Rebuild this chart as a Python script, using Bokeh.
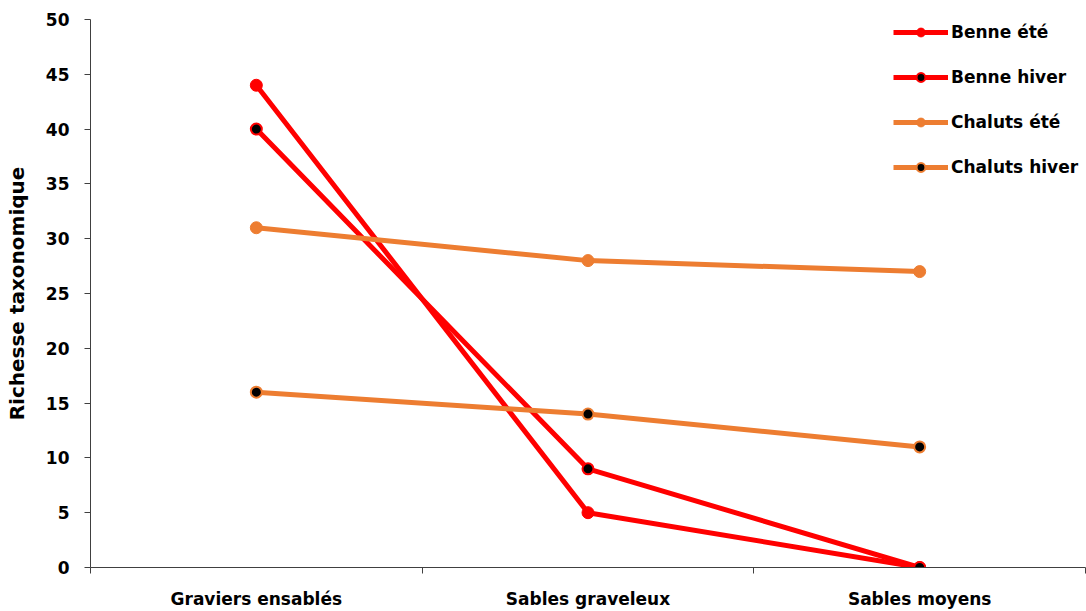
from bokeh.plotting import figure
from bokeh.models import Range1d, FixedTicker, Legend, LegendItem
from bokeh.embed import file_html
from bokeh.resources import INLINE

categories = ["Graviers ensablés", "Sables graveleux", "Sables moyens"]
benne_ete = [44, 5, 0]
benne_hiver = [40, 9, 0]
chaluts_ete = [31, 28, 27]
chaluts_hiver = [16, 14, 11]
y_ticks = [0, 5, 10, 15, 20, 25, 30, 35, 40, 45, 50]

RED = "#FF0000"
ORANGE = "#ED7D31"
FONT = "DejaVu Sans"

xs = [i + 0.5 for i in range(len(categories))]

p = figure(width=1086, height=611, output_backend="svg", toolbar_location=None,
           x_range=Range1d(0, 3), y_range=Range1d(0, 50),
           min_border_left=90, min_border_right=1, min_border_top=19, min_border_bottom=44)
p.outline_line_color = None
p.xgrid.visible = False
p.ygrid.visible = False
p.background_fill_color = "white"
p.border_fill_color = "white"

# x axis
p.xaxis.ticker = FixedTicker(ticks=xs, minor_ticks=[0, 1, 2, 3])
p.xaxis.major_label_overrides = {x: c for x, c in zip(xs, categories)}
p.xaxis.major_tick_out = 0
p.xaxis.major_tick_in = 0
p.xaxis.minor_tick_out = 6
p.xaxis.minor_tick_in = 0
p.xaxis.axis_line_color = "#404040"
p.xaxis.minor_tick_line_color = "#404040"
p.xaxis.major_label_standoff = 15
p.xaxis.major_label_text_font = FONT
p.xaxis.major_label_text_font_style = "bold"
p.xaxis.major_label_text_font_size = "17px"
p.xaxis.major_label_text_color = "black"

# y axis
p.yaxis.ticker = FixedTicker(ticks=y_ticks)
p.yaxis.major_tick_out = 6
p.yaxis.major_tick_in = 0
p.yaxis.minor_tick_line_color = None
p.yaxis.axis_line_color = "#404040"
p.yaxis.major_tick_line_color = "#404040"
p.yaxis.major_label_standoff = 15
p.yaxis.major_label_text_font = FONT
p.yaxis.major_label_text_font_style = "bold"
p.yaxis.major_label_text_font_size = "17px"
p.yaxis.major_label_text_color = "black"
p.yaxis.axis_label = "Richesse taxonomique"
p.yaxis.axis_label_text_font = FONT
p.yaxis.axis_label_text_font_style = "bold"
p.yaxis.axis_label_text_font_size = "20px"
p.yaxis.axis_label_text_color = "black"
p.yaxis.axis_label_standoff = 14

items = []
for name, vals, col, hiver in [("Benne été", benne_ete, RED, False),
                                ("Benne hiver", benne_hiver, RED, True),
                                ("Chaluts été", chaluts_ete, ORANGE, False),
                                ("Chaluts hiver", chaluts_hiver, ORANGE, True)]:
    l = p.line(xs, vals, line_color=col, line_width=5)
    if hiver:
        s = p.scatter(xs, vals, size=11, fill_color="black", line_color=col, line_width=2)
    else:
        s = p.scatter(xs, vals, size=12, fill_color=col, line_color=col, line_width=1)
    items.append(LegendItem(label=name, renderers=[l, s]))

legend = Legend(items=items, location=(803, 389), border_line_color=None,
                background_fill_alpha=0, glyph_width=55, glyph_height=22,
                spacing=23, label_standoff=3, padding=0, margin=0,
                label_text_font=FONT, label_text_font_style="bold",
                label_text_font_size="17px", label_text_color="black")
p.add_layout(legend)

open("out.html", "w").write(file_html(p, INLINE))
